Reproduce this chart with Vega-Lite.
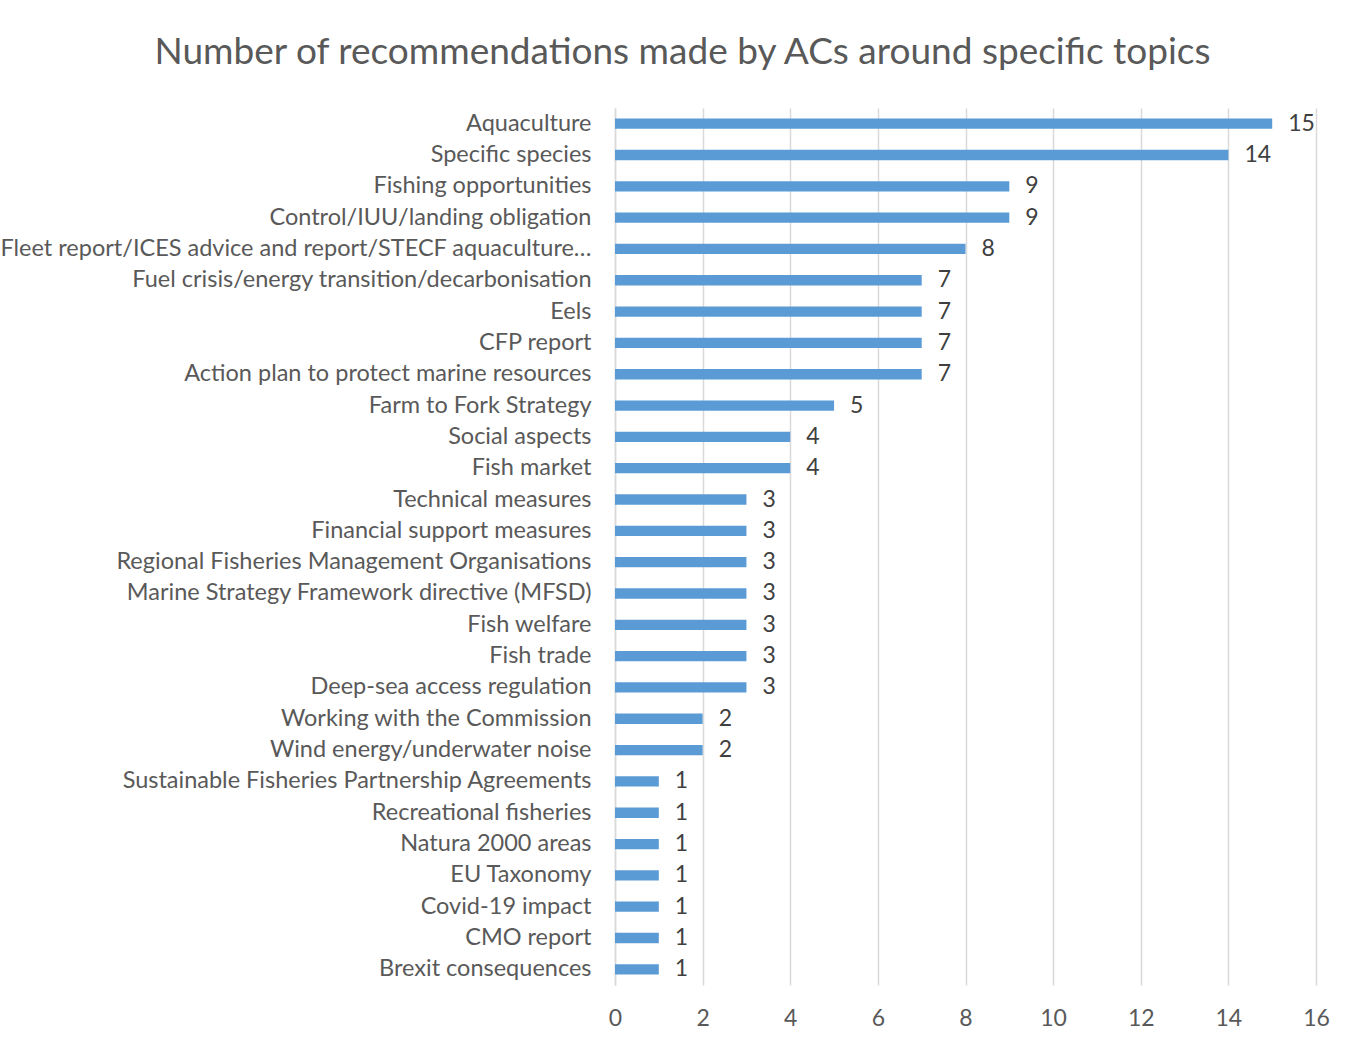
{
  "$schema": "https://vega.github.io/schema/vega-lite/v6.json",
  "width": 701,
  "height": 877,
  "autosize": {"type": "none"},
  "padding": {"left": 615, "top": 108, "right": 47, "bottom": 67},
  "background": "white",
  "title": {
    "text": "Number of recommendations made by ACs around specific topics",
    "anchor": "middle",
    "frame": "group",
    "dx": -283,
    "offset": 36,
    "font": "Lato",
    "fontSize": 37,
    "fontWeight": "normal",
    "color": "#595959"
  },
  "data": {
    "values": [
      {"topic": "Aquaculture", "count": 15},
      {"topic": "Specific species", "count": 14},
      {"topic": "Fishing opportunities", "count": 9},
      {"topic": "Control/IUU/landing obligation", "count": 9},
      {"topic": "Fleet report/ICES advice and report/STECF aquaculture…", "count": 8},
      {"topic": "Fuel crisis/energy transition/decarbonisation", "count": 7},
      {"topic": "Eels", "count": 7},
      {"topic": "CFP report", "count": 7},
      {"topic": "Action plan to protect marine resources", "count": 7},
      {"topic": "Farm to Fork Strategy", "count": 5},
      {"topic": "Social aspects", "count": 4},
      {"topic": "Fish market", "count": 4},
      {"topic": "Technical measures", "count": 3},
      {"topic": "Financial support measures", "count": 3},
      {"topic": "Regional Fisheries Management Organisations", "count": 3},
      {"topic": "Marine Strategy Framework directive (MFSD)", "count": 3},
      {"topic": "Fish welfare", "count": 3},
      {"topic": "Fish trade", "count": 3},
      {"topic": "Deep-sea access regulation", "count": 3},
      {"topic": "Working with the Commission", "count": 2},
      {"topic": "Wind energy/underwater noise", "count": 2},
      {"topic": "Sustainable Fisheries Partnership Agreements", "count": 1},
      {"topic": "Recreational fisheries", "count": 1},
      {"topic": "Natura 2000 areas", "count": 1},
      {"topic": "EU Taxonomy", "count": 1},
      {"topic": "Covid-19 impact", "count": 1},
      {"topic": "CMO report", "count": 1},
      {"topic": "Brexit consequences", "count": 1}
    ]
  },
  "encoding": {
    "y": {
      "field": "topic",
      "type": "nominal",
      "sort": null,
      "scale": {"paddingInner": 0.67, "paddingOuter": 0.335},
      "axis": {
        "title": null,
        "ticks": false,
        "domain": true,
        "domainColor": "#D9D9D9",
        "domainWidth": 1.5,
        "labelFont": "Lato",
        "labelFontSize": 23.5,
        "labelColor": "#595959",
        "labelPadding": 24,
        "labelLimit": 0
      }
    },
    "x": {
      "field": "count",
      "type": "quantitative",
      "scale": {"domain": [0, 16]},
      "axis": {
        "title": null,
        "values": [0, 2, 4, 6, 8, 10, 12, 14, 16],
        "ticks": false,
        "domain": false,
        "grid": true,
        "gridColor": "#D9D9D9",
        "gridWidth": 1.5,
        "labelFlush": false,
        "labelFont": "Lato",
        "labelFontSize": 23,
        "labelColor": "#595959",
        "labelPadding": 22
      }
    }
  },
  "layer": [
    {"mark": {"type": "bar", "color": "#5B9BD5"}},
    {
      "mark": {
        "type": "text",
        "align": "left",
        "baseline": "middle",
        "dx": 16,
        "font": "Lato",
        "fontSize": 23,
        "color": "#404040"
      },
      "encoding": {"text": {"field": "count", "type": "quantitative"}}
    }
  ],
  "config": {"view": {"stroke": null}}
}
